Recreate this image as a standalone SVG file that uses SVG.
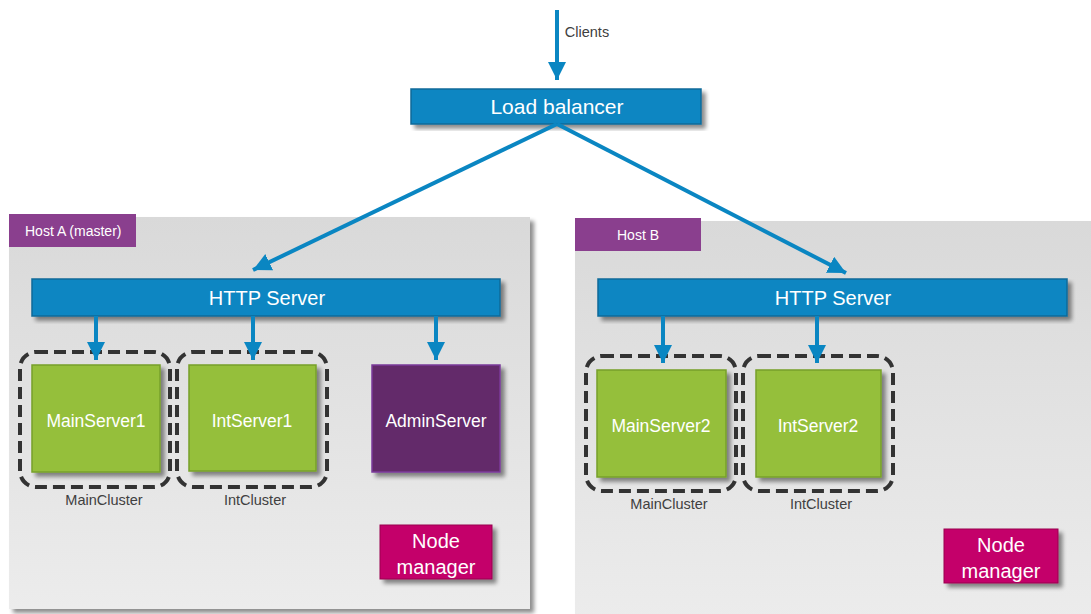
<svg xmlns="http://www.w3.org/2000/svg" width="1091" height="614" viewBox="0 0 1091 614">
  <defs>
    <linearGradient id="panelGrad" x1="0" y1="0" x2="0" y2="1">
      <stop offset="0" stop-color="#d9d9d9"/>
      <stop offset="1" stop-color="#ececec"/>
    </linearGradient>
    <filter id="shadow" x="-10%" y="-10%" width="125%" height="130%">
      <feGaussianBlur in="SourceAlpha" stdDeviation="2"/>
      <feOffset dx="4" dy="4" result="b"/>
      <feComponentTransfer><feFuncA type="linear" slope="0.45"/></feComponentTransfer>
      <feMerge><feMergeNode/><feMergeNode in="SourceGraphic"/></feMerge>
    </filter>
    <marker id="arrow" viewBox="0 0 10 10" refX="10" refY="5" markerWidth="4.5" markerHeight="4.5" orient="auto" markerUnits="strokeWidth">
      <path d="M0,0 L10,5 L0,10 z" fill="#0a86c2"/>
    </marker>
    <style>
      .panel { fill: url(#panelGrad); filter: url(#shadow); }
      .hostTag { fill: #8a3f8e; }
      .hostText { font-family: "Liberation Sans", Arial, sans-serif; font-size: 14px; fill: #ffffff; }
      .blue { fill: #0a86c2; stroke: #0b6a99; stroke-width: 1.5; filter: url(#shadow); }
      .blueText { font-family: "Liberation Sans", Arial, sans-serif; font-size: 20px; fill: #ffffff; text-anchor: middle; }
      .cluster { fill: none; stroke: #333333; stroke-width: 4; stroke-dasharray: 12 6; }
      .green { fill: #95bf3a; stroke: #77a02a; stroke-width: 1.5; filter: url(#shadow); }
      .admin { fill: #642b6a; stroke: #7a3a9a; stroke-width: 1.5; filter: url(#shadow); }
      .nodeText { font-family: "Liberation Sans", Arial, sans-serif; font-size: 17.5px; fill: #ffffff; text-anchor: middle; }
      .nm { fill: #c4006a; stroke: #99004f; stroke-width: 1; filter: url(#shadow); }
      .nmText { font-family: "Liberation Sans", Arial, sans-serif; font-size: 20px; fill: #ffffff; text-anchor: middle; }
      .caption { font-family: "Liberation Sans", Arial, sans-serif; font-size: 14.5px; fill: #404040; text-anchor: middle; }
      .conn { stroke: #0a86c2; stroke-width: 4; fill: none; marker-end: url(#arrow); }
    </style>
  </defs>

  <rect width="1091" height="614" fill="#ffffff"/>

  <!-- Host A panel -->
  <g id="hostA">
    <rect class="panel" x="9" y="217" width="521" height="392"/>
    <rect class="hostTag" x="9" y="214" width="127" height="33"/>
    <text class="hostText" x="25" y="236">Host A (master)</text>
  </g>

  <!-- Host B panel -->
  <g id="hostB">
    <rect class="panel" x="575" y="221" width="530" height="400"/>
    <rect class="hostTag" x="575" y="218" width="126" height="33"/>
    <text class="hostText" x="617" y="240">Host B</text>
  </g>

  <g id="clients">
    <text class="caption" x="587" y="37">Clients</text>
  </g>

  <g id="loadBalancer">
    <rect class="blue" x="411" y="89" width="290" height="35"/>
    <text class="blueText" x="557" y="114" style="font-size:21px">Load balancer</text>
  </g>

  <g id="httpA">
    <rect class="blue" x="32" y="279" width="468" height="37"/>
    <text class="blueText" x="267" y="305">HTTP Server</text>
  </g>

  <g id="httpB">
    <rect class="blue" x="598" y="279" width="469" height="37"/>
    <text class="blueText" x="833" y="305">HTTP Server</text>
  </g>

  <g id="mainServer1">
    <rect class="cluster" x="20" y="352" width="150" height="135" rx="16"/>
    <rect class="green" x="32" y="365" width="128" height="107"/>
    <text class="nodeText" x="96" y="427">MainServer1</text>
    <text class="caption" x="104" y="505">MainCluster</text>
  </g>

  <g id="intServer1">
    <rect class="cluster" x="177" y="352" width="150" height="135" rx="16"/>
    <rect class="green" x="189" y="365" width="127" height="106"/>
    <text class="nodeText" x="252" y="427">IntServer1</text>
    <text class="caption" x="255" y="505">IntCluster</text>
  </g>

  <g id="adminServer">
    <rect class="admin" x="372" y="365" width="128" height="107"/>
    <text class="nodeText" x="436" y="427">AdminServer</text>
  </g>

  <g id="nodeManagerA">
    <rect class="nm" x="380" y="525" width="112" height="54"/>
    <text class="nmText" x="436" y="548">Node</text>
    <text class="nmText" x="436" y="574">manager</text>
  </g>

  <g id="mainServer2">
    <rect class="cluster" x="586" y="356" width="150" height="135" rx="16"/>
    <rect class="green" x="597" y="370" width="129" height="107"/>
    <text class="nodeText" x="661" y="432">MainServer2</text>
    <text class="caption" x="669" y="509">MainCluster</text>
  </g>

  <g id="intServer2">
    <rect class="cluster" x="743" y="356" width="150" height="135" rx="16"/>
    <rect class="green" x="756" y="370" width="125" height="107"/>
    <text class="nodeText" x="818" y="432">IntServer2</text>
    <text class="caption" x="821" y="509">IntCluster</text>
  </g>

  <g id="nodeManagerB">
    <rect class="nm" x="944" y="529" width="114" height="54"/>
    <text class="nmText" x="1001" y="552">Node</text>
    <text class="nmText" x="1001" y="578">manager</text>
  </g>

  <!-- connectors -->
  <g id="connectors">
    <line class="conn" x1="557" y1="10" x2="557" y2="80"/>
    <line class="conn" x1="557" y1="124" x2="253" y2="270"/>
    <line class="conn" x1="557" y1="124" x2="846" y2="273"/>
    <line class="conn" x1="96" y1="316" x2="96" y2="360"/>
    <line class="conn" x1="253" y1="316" x2="253" y2="360"/>
    <line class="conn" x1="436" y1="316" x2="436" y2="360"/>
    <line class="conn" x1="663" y1="316" x2="663" y2="363"/>
    <line class="conn" x1="817" y1="316" x2="817" y2="363"/>
  </g>
</svg>
